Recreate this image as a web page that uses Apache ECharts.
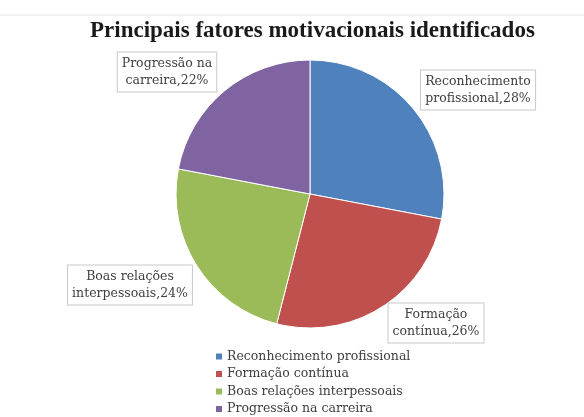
<!DOCTYPE html>
<html><head><meta charset="utf-8">
<script src="https://cdn.jsdelivr.net/npm/echarts@6/dist/echarts.min.js"></script>
<style>html,body{margin:0;padding:0;background:#fff}#c{width:584px;height:417px}</style>
</head><body><div id="c"></div>
<script>
const categories = ['Reconhecimento profissional','Formação contínua','Boas relações interpessoais','Progressão na carreira'];
const labelTexts = ['Reconhecimento\nprofissional','Formação\ncontínua','Boas relações\ninterpessoais','Progressão na\ncarreira'];
const values = [28, 26, 24, 22];
const colors = ['#4F81BD','#C0504D','#9BBB59','#8064A2'];
const labelPos = [[478,90],[436,323],[130,285],[167,72]];

const chart = echarts.init(document.getElementById('c'));
chart.setOption({
  animation:false,
  color: colors,
  title:{text:'Principais fatores motivacionais identificados',left:85,top:15,
    textStyle:{fontFamily:'Liberation Serif',fontWeight:'bold',fontSize:23,color:'#1a1a1a'}},
  graphic:[{type:'line',shape:{x1:0,y1:15,x2:584,y2:15},style:{stroke:'#e6e6e6',lineWidth:1}}],
  legend:{orient:'vertical',left:209,top:345,height:72,itemWidth:8,itemHeight:8,itemGap:4.5,icon:'rect',
    data:categories,
    textStyle:{fontFamily:'DejaVu Serif',fontSize:12.5,lineHeight:13,color:'#404040',padding:[0,0,0,-1]}},
  series:[{type:'pie',center:[310,194],radius:134,startAngle:90,clockwise:true,
    itemStyle:{borderColor:'#fff',borderWidth:1},
    label:{show:true,position:'outside',overflow:'none',
      formatter:p=>labelTexts[p.dataIndex]+','+p.value+'%',
      fontFamily:'DejaVu Serif',fontSize:12.5,color:'#404040',lineHeight:17,
      backgroundColor:'#fff',borderColor:'#c8c8c8',borderWidth:1,padding:[3,4,2,4],align:'center'},
    labelLine:{show:false},
    labelLayout:p=>({x:labelPos[p.dataIndex][0],y:labelPos[p.dataIndex][1],align:'center',verticalAlign:'middle'}),
    data:categories.map((c,i)=>({name:c,value:values[i]}))
  }]
});
</script></body></html>
